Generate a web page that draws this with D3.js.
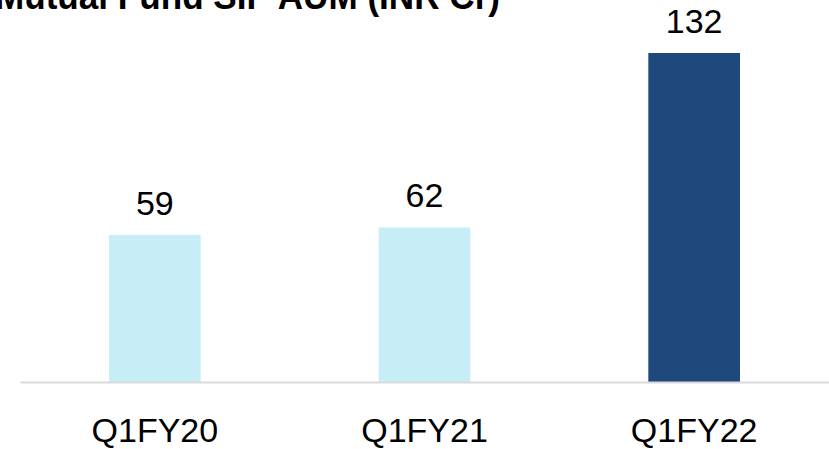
<!DOCTYPE html>
<html>
<head>
<meta charset="utf-8">
<script src="https://cdn.jsdelivr.net/npm/d3@7"></script>
<style>
  body { margin: 0; background: #fff; }
  text { font-family: "Liberation Sans", "DejaVu Sans", sans-serif; }
</style>
</head>
<body>
<div id="chart"></div>
<script>
// data
var categories = ["Q1FY20", "Q1FY21", "Q1FY22"];
var values = [59, 62, 132];
var barColors = ["#c7eef7", "#c7eef7", "#1f497d"];
var title = "Mutual Fund SIP AUM (INR Cr)";

var width = 829, height = 449;
var margin = { top: 53, right: 0, bottom: 67, left: 20 };

var svg = d3.select("#chart").append("svg")
    .attr("width", width)
    .attr("height", height);

// band scale spanning the plot
var xScale = d3.scaleBand()
    .domain(categories)
    .range([margin.left, width - margin.right])
    .paddingInner(0.66)
    .paddingOuter(0.33);

var yScale = d3.scaleLinear()
    .domain([0, d3.max(values)])
    .range([height - margin.bottom, margin.top]);

// title (cut off at the top like the original)
svg.append("text")
    .attr("x", -5)
    .attr("y", 9)
    .attr("textLength", 505)
    .attr("lengthAdjust", "spacingAndGlyphs")
    .style("font-weight", "bold")
    .style("font-size", "36px")
    .text(title);

// bars
svg.selectAll(".bar")
    .data(values)
    .enter()
    .append("rect")
    .attr("class", "bar")
    .attr("x", function (d, i) { return xScale(categories[i]); })
    .attr("y", function (d) { return yScale(d); })
    .attr("width", xScale.bandwidth())
    .attr("height", function (d) { return yScale(0) - yScale(d); })
    .attr("fill", function (d, i) { return barColors[i]; });

// value labels
svg.selectAll(".val")
    .data(values)
    .enter()
    .append("text")
    .attr("class", "val")
    .attr("x", function (d, i) { return xScale(categories[i]) + xScale.bandwidth() / 2; })
    .attr("y", function (d) { return yScale(d) - 20; })
    .attr("text-anchor", "middle")
    .style("font-size", "34px")
    .attr("fill", "#000")
    .text(function (d) { return d; });

// x axis
var xAxis = svg.append("g")
    .attr("transform", "translate(0," + yScale(0) + ")")
    .call(d3.axisBottom(xScale).tickSize(0).tickPadding(36));
xAxis.select(".domain").attr("stroke", "#d9d9d9").attr("stroke-width", 2);
xAxis.selectAll("text")
    .style("font-size", "34px")
    .attr("fill", "#000");
</script>
</body>
</html>
